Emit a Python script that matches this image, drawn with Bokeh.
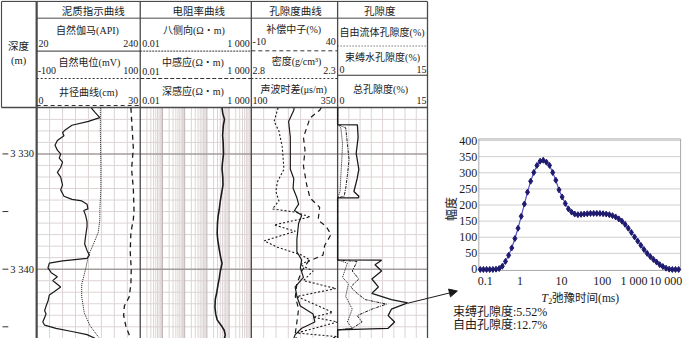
import math
from bokeh.plotting import figure
from bokeh.models import Range1d, LogScale, Arrow, NormalHead
from bokeh.core.properties import value
from bokeh.embed import file_html
from bokeh.resources import INLINE

# ---------------- data ----------------
GR_DEPTH = [3326.0, 3326.4, 3326.85, 3327.18, 3327.51, 3327.87, 3328.14, 3328.43, 3328.84, 3329.25,
            3329.67, 3330.0, 3330.36, 3330.71, 3331.18, 3331.6, 3332.01, 3332.7, 3333.12, 3333.67,
            3333.94, 3334.08, 3334.36, 3334.77, 3334.91, 3335.33, 3335.88, 3336.3, 3337.13, 3337.81,
            3338.37, 3338.78, 3339.06, 3339.28, 3339.47, 3339.88, 3340.3, 3340.65, 3340.99, 3341.54,
            3341.96, 3342.23, 3342.79, 3343.2, 3343.61, 3343.89, 3344.58, 3344.86, 3345.13, 3345.41,
            3345.68, 3346.0]
GR = [136, 144, 154, 130, 95, 82, 75, 78, 64, 59,
      64, 71, 68, 75, 71, 64, 71, 75, 71, 78,
      95, 116, 127, 129, 120, 124, 127, 127, 124, 122,
      127, 132, 127, 75, 47, 44, 51, 64, 54, 71,
      57, 47, 44, 40, 37, 40, 33, 37, 61, 95,
      127, 144]

SP_DEPTH = [3326.0, 3328.0, 3331.0, 3333.0, 3334.9, 3335.7, 3336.8, 3337.9, 3338.8, 3339.9,
            3341.3, 3342.4, 3343.8, 3344.9, 3345.7, 3346.0]
SP = [23, 23, 24, 24, 22, 22, 19, 9, 0, -5, -13, -13, -8, 3, 16, 22]

CAL_DEPTH = [3326.0, 3327.0, 3328.0, 3329.5, 3331.3, 3332.0, 3333.0, 3334.9, 3335.7, 3336.8,
             3338.5, 3340.0, 3341.3, 3342.4, 3343.2, 3344.0, 3344.9, 3345.7, 3346.0]
CAL = [27.3, 27.5, 27.7, 28.0, 27.5, 27.7, 28.0, 28.2, 28.0, 27.3,
       27.1, 27.4, 27.3, 26.8, 25.4, 25.2, 25.8, 26.8, 27.4]

RES_DEPTH = [3326.0, 3326.5, 3327.0, 3327.5, 3328.4, 3329.0, 3330.0, 3330.8, 3331.3, 3332.0,
             3332.7, 3333.5, 3334.1, 3334.8, 3335.4, 3336.0, 3336.9, 3337.5, 3338.3, 3339.0,
             3339.5, 3340.2, 3340.8, 3341.3, 3342.0, 3342.6, 3343.3, 3343.9, 3344.4, 3344.9,
             3345.3, 3345.7, 3346.0]
RES = [48, 52, 62, 55, 51, 54, 56, 50, 48, 52,
       53, 45, 40, 36, 32, 30, 29, 31, 36, 42,
       48, 40, 36, 32, 28, 24, 23, 25, 29, 45,
       60, 67, 62]

AC_DEPTH = [3326.0, 3326.21, 3327.18, 3328.56, 3331.33, 3332.15, 3332.98, 3333.81, 3334.36, 3334.91,
            3335.33, 3336.02, 3337.4, 3338.5, 3339.2, 3339.88, 3340.71, 3341.54, 3342.37, 3343.2,
            3343.89, 3344.58, 3345.13, 3345.68, 3346.0]
AC = [224, 223, 208, 213, 213, 223, 221, 232, 237, 225,
      246, 237, 232, 232, 246, 242, 251, 227, 232, 242,
      279, 284, 246, 227, 223]

CNL_DEPTH = [3326.0, 3326.21, 3326.88, 3328.56, 3329.67, 3331.04, 3332.7, 3333.81, 3334.64, 3335.74,
             3336.3, 3336.98, 3337.95, 3338.78, 3339.33, 3340.16, 3341.27, 3342.37, 3343.47, 3344.58,
             3345.54, 3346.0]
CNL = [30.5, 29.6, 24.0, 20.2, 21.1, 20.2, 22.1, 24.0, 29.6, 28.7,
       33.4, 36.2, 32.5, 31.5, 23.0, 19.2, 16.4, 15.5, 17.4, 16.4,
       15.5, 16.0]

DEN_DEPTH = [3326.0, 3326.21, 3327.18, 3328.01, 3329.39, 3331.33, 3332.43, 3333.26, 3334.08, 3334.77,
             3335.05, 3335.47, 3336.16, 3336.71, 3337.54, 3338.09, 3338.78, 3339.2, 3339.61, 3340.16,
             3340.99, 3341.68, 3342.37, 3343.75, 3344.17, 3344.58, 3345.54, 3345.85, 3346.0]
DEN = [2.645, 2.649, 2.668, 2.640, 2.621, 2.611, 2.649, 2.658, 2.640, 2.678,
       2.545, 2.460, 2.668, 2.545, 2.725, 2.649, 2.508, 2.460, 2.517, 2.442,
       2.498, 2.310, 2.536, 2.328, 2.442, 2.300, 2.536, 2.306, 2.33]

TPOR_DEPTH = [3326.0, 3327.45, 3327.47, 3328.56, 3329.94, 3331.33, 3332.15, 3333.26, 3333.67, 3333.8,
              3333.82, 3339.2, 3339.22, 3339.61, 3340.16, 3340.85, 3341.54, 3342.1, 3342.64, 3342.92,
              3343.47, 3344.03, 3344.58, 3345.13, 3345.27, 3346.0]
TPOR = [0, 0, 3.3, 3.42, 3.10, 3.54, 3.26, 2.72, 3.54, 3.5,
        0, 0, 7.34, 6.24, 7.34, 5.71, 6.80, 5.71, 8.97, 11.69,
        8.97, 8.43, 9.51, 8.43, 0, 0]

FFI_DEPTH = [3326.0, 3327.45, 3327.73, 3329.11, 3330.5, 3331.87, 3332.98, 3333.67, 3333.82, 3339.2,
             3339.33, 3340.16, 3340.85, 3341.54, 3342.1, 3342.64, 3343.03, 3343.47, 3344.03, 3344.58,
             3345.13, 3345.27, 3346.0]
FFI = [0, 0, 1.35, 1.63, 1.91, 1.63, 1.35, 1.09, 0, 0,
       3.26, 2.45, 3.54, 2.17, 3.26, 4.61, 8.15, 5.71, 3.26, 4.08,
       2.45, 0, 0]

BVI_DEPTH = [3326.0, 3327.45, 3327.73, 3329.11, 3330.5, 3331.87, 3333.26, 3333.82, 3339.2, 3339.47,
             3340.71, 3341.27, 3342.37, 3343.47, 3344.58, 3345.13, 3345.27, 3346.0]
BVI = [0, 0, 0.54, 0.82, 0.70, 0.54, 0.41, 0, 0, 1.63,
       0.82, 1.79, 1.35, 2.45, 1.63, 2.45, 0, 0]

DEPTH_TICKS = [3330, 3335, 3340, 3345]
DEPTH_LABEL_VALUES = [3330, 3340]
DEPTH_LABELS = ["3 330", "3 340"]

T2_TIME = [0.1, 0.12, 0.1441, 0.173, 0.2077, 0.2494, 0.2994, 0.3594, 0.4314, 0.518,
           0.6218, 0.7465, 0.8962, 1.076, 1.292, 1.551, 1.861, 2.235, 2.683, 3.221,
           3.866, 4.642, 5.572, 6.69, 8.031, 9.641, 11.57, 13.9, 16.68, 20.03,
           24.04, 28.86, 34.65, 41.6, 49.94, 59.95, 71.97, 86.4, 103.7, 124.5,
           149.5, 179.5, 215.4, 258.6, 310.5, 372.8, 447.5, 537.2, 645.0, 774.3,
           929.5, 1116, 1340, 1608, 1931, 2318, 2783, 3341, 4010, 4815,
           5780, 6939, 8330, 10000]
T2_AMP = [0, 0, 0, 0, 0, 1, 3, 10, 25, 44,
          67, 96, 128, 165, 203, 240, 274, 301, 323, 336,
          339, 333, 323, 301, 277, 247, 225, 205, 188, 178,
          172, 170, 171, 172, 173, 174, 174, 174, 174, 173,
          172, 170, 167, 163, 157, 150, 140, 128, 115, 101,
          88, 75, 62, 50, 40, 31, 23, 15, 9, 4,
          1, 0, 0, 0]
T2_X_TICKS = [0.1, 1, 10, 100, 1000, 10000]
T2_X_LABELS = ["0.1", "1", "10", "100", "1 000", "10 000"]
T2_Y_TICKS = [0, 50, 100, 150, 200, 250, 300, 350, 400]
BOUND_POROSITY = 5.52
FREE_POROSITY = 12.7

# ---------------- layout (reference pixel space) ----------------
REF_W, REF_H = 700, 354
T1 = (37.0, 143.0)
T2 = (143.0, 256.7)
T3 = (256.7, 345.0)
T4 = (345.0, 437.0)
HDR_TOP, HDR_BOT, LOG_BOT = 1.0, 112.0, 354.0
D0_PX, PX_PER_M = 160.7, 12.07
T2_PX0, T2_PX_DEC = 491.0, 40.6
AMP0_PX, AMP400_PX = 281.7, 146.7
T2_XMIN, T2_XMAX = 0.092, 11200.0
AMP_MIN, AMP_MAX = -3.0, 405.0

FONT = "Liberation Serif, Noto Sans CJK SC"
INK = "#1a1a1a"
BORDER = "#4a4a4a"
GRID_MINOR = "#ddd4d4"
GRID_MAJOR = "#a59d9d"


def lin_x(span, v0, v1):
    k = (v1 - v0) / (span[1] - span[0])
    return Range1d(start=v0 - span[0] * k, end=v0 + (REF_W - span[0]) * k)


def log_x(span, v0, v1):
    l0, l1 = math.log10(v0), math.log10(v1)
    k = (l1 - l0) / (span[1] - span[0])
    return Range1d(start=10 ** (l0 - span[0] * k), end=10 ** (l0 + (REF_W - span[0]) * k))


def lin_y(py0, py1, v0, v1):
    k = (v1 - v0) / (py1 - py0)
    return Range1d(start=v0 + (REF_H - py0) * k, end=v0 + (0 - py0) * k)


p = figure(width=684, height=338, x_range=Range1d(0, REF_W), y_range=Range1d(REF_H, 0),
           output_backend="svg", toolbar_location=None, tools="",
           x_axis_location=None, y_axis_location=None, min_border=0,
           outline_line_color=None, background_fill_color="white", border_fill_color="white")
p.grid.visible = False

p.extra_x_ranges = {
    "gr": lin_x(T1, 20, 240), "sp": lin_x(T1, -100, 100), "cal": lin_x(T1, 0, 30),
    "res": log_x(T2, 0.01, 1000),
    "cnl": lin_x(T3, -10, 40), "den": lin_x(T3, 2.8, 2.3), "ac": lin_x(T3, 100, 350),
    "por": lin_x(T4, 0, 15),
    "t2x": log_x((T2_PX0, T2_PX0 + 5 * T2_PX_DEC), 0.1, 10000),
}
p.extra_x_scales = {"res": LogScale(), "t2x": LogScale()}
p.extra_y_ranges = {
    "depth": lin_y(D0_PX, D0_PX + 10 * PX_PER_M, 3330, 3340),
    "amp": lin_y(AMP0_PX, AMP400_PX, 0, 400),
}


def seg(x0, y0, x1, y1, color, width=1.0, dash="solid", xr="default", yr="default"):
    p.segment(x0=x0, y0=y0, x1=x1, y1=y1, line_color=color, line_width=width,
              line_dash=dash, x_range_name=xr, y_range_name=yr)


def txt(xs, ys, texts, size, align="center", xr="default", yr="default",
        style="normal", angle=0.0, x_offset=0):
    p.text(x=xs, y=ys, text=texts, text_font=value(FONT), text_font_size=value(size),
           text_align=align, text_baseline="middle", text_color=INK, text_font_style=style,
           angle=angle, x_offset=x_offset, x_range_name=xr, y_range_name=yr)


# ---------------- log grid ----------------
grid_depths = [d for d in range(3327, 3346) if d not in (3330, 3340)]
n = len(grid_depths)
seg([T1[0]] * n, grid_depths, [T4[1]] * n, grid_depths, GRID_MINOR, 1, yr="depth")

g1 = [20 + k * 220 / 8 for k in range(1, 8)]
seg(g1, [HDR_BOT] * 7, g1, [LOG_BOT] * 7, GRID_MINOR, 1, xr="gr")
g3 = [100 + k * 250 / 7 for k in range(1, 7)]
seg(g3, [HDR_BOT] * 6, g3, [LOG_BOT] * 6, GRID_MINOR, 1, xr="ac")
g4 = [k * 15 / 8 for k in range(1, 8)]
seg(g4, [HDR_BOT] * 7, g4, [LOG_BOT] * 7, GRID_MINOR, 1, xr="por")
minor_log = [m * 10.0 ** e for e in range(-2, 3) for m in range(2, 10)]
seg(minor_log, [HDR_BOT] * len(minor_log), minor_log, [LOG_BOT] * len(minor_log),
    GRID_MINOR, 1, xr="res")
dec = [0.1, 1, 10, 100]
seg(dec, [HDR_BOT] * 4, dec, [LOG_BOT] * 4, "#bdb4b4", 1, xr="res")

major = [3330, 3340]
seg([T1[0]] * 2, major, [T4[1]] * 2, major, GRID_MAJOR, 1.6, yr="depth")

# ---------------- borders ----------------
seg([HDR_TOP], [HDR_TOP], [T4[1]], [HDR_TOP], BORDER, 1.2)
seg([HDR_TOP], [HDR_TOP], [HDR_TOP], [HDR_BOT], BORDER, 1.2)
seg([T1[0]], [18.5], [T4[1]], [18.5], BORDER, 1)
seg([HDR_TOP], [HDR_BOT], [T4[1]], [HDR_BOT], BORDER, 1.4)
seg([T1[0]], [HDR_TOP], [T1[0]], [LOG_BOT], BORDER, 2.2)
xs_b = [T2[0], T3[0], T4[0], T4[1]]
seg(xs_b, [HDR_TOP] * 4, xs_b, [LOG_BOT] * 4, BORDER, 1.3)

# header row separators (styles follow curve styles)
seg([T1[0]], [53], [T1[1]], [53], "#333333", 1)
seg([T1[0]], [81.7], [T1[1]], [81.7], "#333333", 1, "2 2")
seg([T1[0]], [110], [T1[1]], [110], "#333333", 1, "4 3")
seg([T2[0]], [53], [T2[1]], [53], "#333333", 1, "2 1")
seg([T2[0]], [81.7], [T2[1]], [81.7], "#333333", 1, "4 2")
seg([T3[0]], [52.7], [T3[1]], [52.7], "#333333", 1, "4 3")
seg([T3[0]], [81.7], [T3[1]], [81.7], "#333333", 1, "2 2")
seg([T4[0]], [47.7], [T4[1]], [47.7], "#333333", 1, "1 2")
seg([T4[0]], [78.3], [T4[1]], [78.3], "#333333", 1)

# ---------------- depth axis ----------------
seg([2] * 4, DEPTH_TICKS, [8] * 4, DEPTH_TICKS, "#333333", 1, yr="depth")
txt([10] * 2, DEPTH_LABEL_VALUES, DEPTH_LABELS, "10.5px", align="left", yr="depth")

# ---------------- curves ----------------
p.line(GR, GR_DEPTH, line_color=INK, line_width=1.2, x_range_name="gr", y_range_name="depth")
p.line(SP, SP_DEPTH, line_color=INK, line_width=1.0, line_dash="1 1",
       x_range_name="sp", y_range_name="depth")
p.line(CAL, CAL_DEPTH, line_color=INK, line_width=1.3, line_dash="5 4",
       x_range_name="cal", y_range_name="depth")
p.line(RES, RES_DEPTH, line_color=INK, line_width=1.6, x_range_name="res", y_range_name="depth")
p.line(AC, AC_DEPTH, line_color=INK, line_width=1.2, x_range_name="ac", y_range_name="depth")
p.line(CNL, CNL_DEPTH, line_color=INK, line_width=1.2, line_dash="5 4",
       x_range_name="cnl", y_range_name="depth")
p.line(DEN, DEN_DEPTH, line_color=INK, line_width=1.1, line_dash="2 2",
       x_range_name="den", y_range_name="depth")
p.line(TPOR, TPOR_DEPTH, line_color=INK, line_width=1.3, x_range_name="por", y_range_name="depth")
p.line(FFI, FFI_DEPTH, line_color=INK, line_width=1.0, line_dash="3 1 1 1",
       x_range_name="por", y_range_name="depth")
p.line(BVI, BVI_DEPTH, line_color=INK, line_width=1.0, line_dash="1 1",
       x_range_name="por", y_range_name="depth")

# ---------------- header texts ----------------
txt([18.5, 18.5], [48, 63], ["深度", "(m)"], "10.5px")
txt([95, 203, 302, 388], [11, 11, 11, 11],
    ["泥质指示曲线", "电阻率曲线", "孔隙度曲线", "孔隙度"], "10.5px")
txt([89, 91, 90, 198, 197, 197, 300, 303, 300, 390.5, 391, 389],
    [31.7, 65, 96.7, 31.7, 65, 95, 30, 64, 93.3, 33.3, 60, 93.3],
    ["自然伽马(API)", "自然电位(mV)", "井径曲线(cm)",
     "八侧向(Ω・m)", "中感应(Ω・m)", "深感应(Ω・m)",
     "补偿中子(%)", "密度(g/cm³)", "声波时差(μs/m)",
     "自由流体孔隙度(%)", "束缚水孔隙度(%)", "总孔隙度(%)"], "10px")
txt([39, 38, 39, 145, 145, 145, 258, 258, 258, 347, 347],
    [45, 73.3, 104.3, 45, 74.3, 105, 43.3, 73.3, 105, 72, 105],
    ["20", "-100", "0", "0.01", "0.01", "0.01", "-10", "2.8", "100", "0", "0"],
    "10px", align="left")
txt([141, 141, 141, 255, 255, 255, 343, 343, 343, 436, 436],
    [45, 73.3, 104.3, 45, 73, 104.3, 43.3, 73.3, 105, 72, 105],
    ["240", "100", "30", "1 000", "1 000", "1 000", "40", "2.3", "350", "15", "15"],
    "10px", align="right")

# ---------------- T2 distribution inset ----------------
gy = T2_Y_TICKS[1:]
seg([T2_XMIN] * len(gy), gy, [T2_XMAX] * len(gy), gy, "#cfcfcf", 1, xr="t2x", yr="amp")
p.quad(left=[T2_XMIN], right=[T2_XMAX], bottom=[AMP_MIN], top=[AMP_MAX], fill_color=None,
       line_color="#a8a8a8", line_width=1, x_range_name="t2x", y_range_name="amp")
p.line(T2_TIME, T2_AMP, line_color="#5a4fc4", line_width=1.2, x_range_name="t2x", y_range_name="amp")
p.scatter(T2_TIME, T2_AMP, marker="diamond", size=6, fill_color="#1e1a6e", line_color="#1e1a6e",
          x_range_name="t2x", y_range_name="amp")
txt([488] * len(T2_Y_TICKS), T2_Y_TICKS, [str(v) for v in T2_Y_TICKS], "12px",
    align="right", yr="amp")
txt(T2_X_TICKS, [293.5] * len(T2_X_TICKS), T2_X_LABELS, "12px", xr="t2x",
    x_offset=[5, 0, 2, 3, -5, -13])
txt([462], [218.3], ["幅度"], "12px", angle=math.pi / 2)
txt([553.5], [311.7], ["T"], "12px", align="left", style="italic")
txt([560.5], [314.5], ["2"], "8px", align="left")
txt([564.5], [311.7], ["弛豫时间(ms)"], "11.5px", align="left")
txt([463, 463], [326.7, 340],
    ["束缚孔隙度:%.2f%%" % BOUND_POROSITY, "自由孔隙度:%.1f%%" % FREE_POROSITY],
    "12px", align="left")

p.add_layout(Arrow(end=NormalHead(size=8, fill_color=INK, line_color=INK),
                   x_start=417, y_start=317, x_end=467.5, y_end=304.3,
                   line_color=INK, line_width=1))

open("out.html", "w").write(file_html(p, INLINE))
